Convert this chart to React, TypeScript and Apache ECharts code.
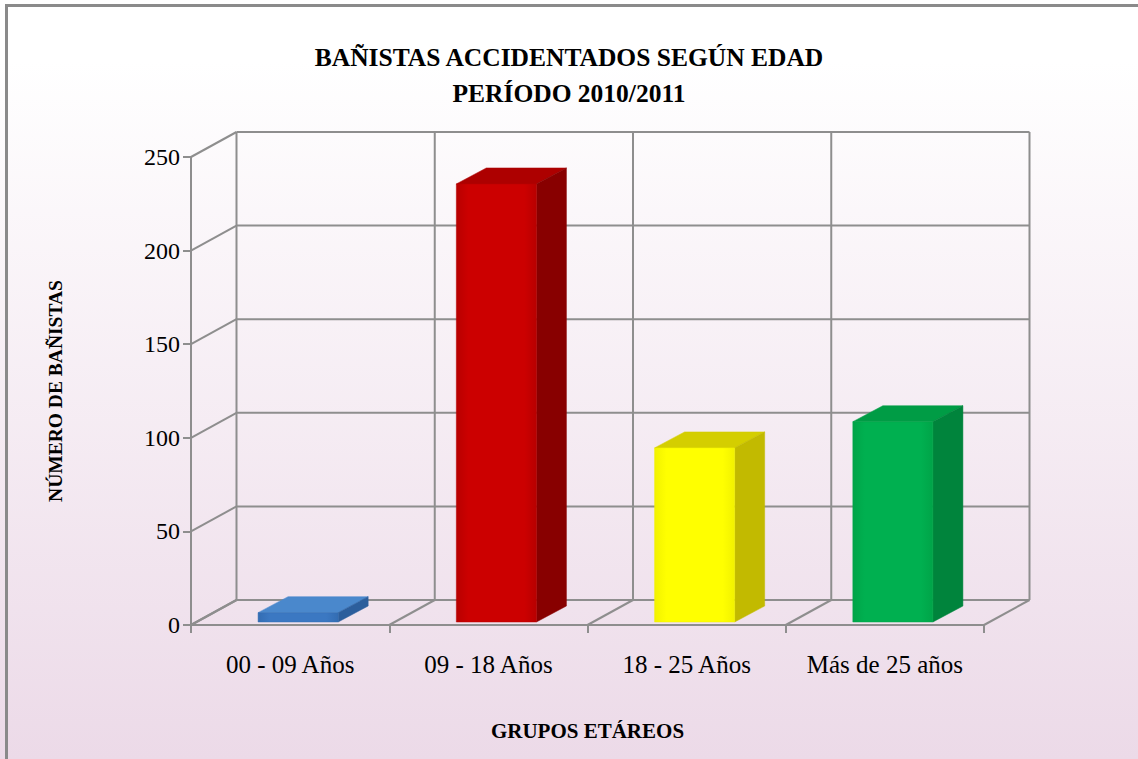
import React, { useEffect, useRef } from "react";
import * as echarts from "echarts";

// ---- data ----
const titleLines = ["BAÑISTAS ACCIDENTADOS SEGÚN EDAD", "PERÍODO 2010/2011"];
const categories = ["00 - 09 Años", "09 - 18 Años", "18 - 25 Años", "Más de 25 años"];
const values = [5, 234, 93, 107];
const yTicks = [0, 50, 100, 150, 200, 250];
const xAxisTitle = "GRUPOS ETÁREOS";
const yAxisTitle = "NÚMERO DE BAÑISTAS";

// ---- styles ----
const frontColors = ["#3b78c2", "#cc0000", "#ffff00", "#00b050"];
const frontDark = ["#336db3", "#b80000", "#f2f200", "#00a448"];
const topColors = ["#4a88cc", "#ad0000", "#d4ce00", "#009c45"];
const sideColors = ["#2c5e9c", "#880000", "#c2ba00", "#00843c"];
const LINE = "#8e8e8e";
const LW = 2;
const FONT = "Liberation Serif";

// wall depth and bar geometry (pixels)
const DX = 45.5;
const DY = -25;
const BX = 8;
const BY = -3;
const BDX = 30;
const BDY = -16;

export default function App() {
  const ref = useRef<HTMLDivElement>(null);
  useEffect(() => {
    if (!ref.current) return;
    const chart = echarts.init(ref.current, null, { renderer: "svg" });
    const lineStyle = { stroke: LINE, lineWidth: LW };

    const option: any = {
      animation: false,
      backgroundColor: {
        type: "linear",
        x: 0,
        y: 0,
        x2: 0,
        y2: 1,
        colorStops: [
          { offset: 0, color: "#ffffff" },
          { offset: 0.08, color: "#ffffff" },
          { offset: 1, color: "#ecdae8" },
        ],
      },
      title: {
        text: titleLines.join("\n"),
        left: "center",
        top: 39,
        padding: 0,
        textStyle: {
          fontFamily: FONT,
          fontWeight: "bold",
          fontSize: 25.5,
          lineHeight: 36,
          color: "#000",
        },
      },
      graphic: [
        {
          type: "polyline",
          shape: { points: [[1200, 5.5], [6.5, 5.5], [6.5, 800]] },
          style: { fill: "none", stroke: "#8a8a8a", lineWidth: 3 },
          silent: true,
          z: 100,
        },
      ],
      grid: { left: 191, right: 154, top: 157, bottom: 134 },
      xAxis: {
        type: "category",
        data: categories,
        boundaryGap: true,
        axisLine: { show: true, lineStyle: { color: LINE, width: LW } },
        axisTick: { show: true, length: 8, interval: 0, lineStyle: { color: LINE, width: LW } },
        axisLabel: {
          interval: 0,
          margin: 27,
          fontFamily: FONT,
          fontSize: 25,
          color: "#000",
        },
        splitLine: { show: false },
        name: xAxisTitle,
        nameLocation: "middle",
        nameGap: 95,
        nameTextStyle: { fontFamily: FONT, fontWeight: "bold", fontSize: 21, color: "#000" },
      },
      yAxis: {
        type: "value",
        min: 0,
        max: 250,
        interval: 50,
        axisLine: { show: true, lineStyle: { color: LINE, width: LW } },
        axisTick: { show: true, length: 8, lineStyle: { color: LINE, width: LW } },
        axisLabel: { margin: 11, fontFamily: FONT, fontSize: 24, color: "#000" },
        splitLine: { show: false },
        name: yAxisTitle,
        nameLocation: "middle",
        nameGap: 126,
        nameRotate: 90,
        nameTextStyle: { fontFamily: FONT, fontWeight: "bold", fontSize: 19.5, color: "#000" },
      },
      series: [
        {
          type: "custom",
          name: "walls",
          silent: true,
          z: 1,
          data: yTicks.map((v) => [0, v]),
          renderItem: (params: any, api: any) => {
            const cs = params.coordSys;
            const y = api.coord([0, api.value(1)])[1];
            const xl = cs.x;
            const xr = cs.x + cs.width;
            return {
              type: "group",
              children: [
                { type: "line", shape: { x1: xl, y1: y, x2: xl + DX, y2: y + DY }, style: lineStyle },
                { type: "line", shape: { x1: xl + DX, y1: y + DY, x2: xr + DX, y2: y + DY }, style: lineStyle },
              ],
            };
          },
        },
        {
          type: "custom",
          name: "floor",
          silent: true,
          z: 1,
          data: categories.map((c, i) => [i, 0]),
          renderItem: (params: any, api: any) => {
            const cs = params.coordSys;
            const i = api.value(0);
            const c = api.coord([i, 0]);
            const band = api.size([1, 0])[0];
            const xs = i === 0 ? [c[0] - band / 2, c[0] + band / 2] : [c[0] + band / 2];
            const yb = c[1];
            const yt = cs.y;
            const children: any[] = [];
            xs.forEach((x) => {
              children.push({ type: "line", shape: { x1: x, y1: yb, x2: x + DX, y2: yb + DY }, style: lineStyle });
              children.push({ type: "line", shape: { x1: x + DX, y1: yb + DY, x2: x + DX, y2: yt + DY }, style: lineStyle });
            });
            return { type: "group", children };
          },
        },
        {
          type: "custom",
          name: "bars",
          silent: true,
          z: 5,
          data: values.map((v, i) => [i, v]),
          renderItem: (params: any, api: any) => {
            const i = api.value(0);
            const v = api.value(1);
            const top = api.coord([i, v]);
            const base = api.coord([i, 0]);
            const band = api.size([1, 0])[0];
            const w = band * 0.404;
            const x0 = top[0] - w / 2 + BX;
            const x1 = x0 + w;
            const yT = top[1] + BY;
            const yB = base[1] + BY;
            return {
              type: "group",
              children: [
                {
                  type: "polygon",
                  shape: { points: [[x0, yT], [x1, yT], [x1 + BDX, yT + BDY], [x0 + BDX, yT + BDY]] },
                  style: { fill: topColors[i], stroke: topColors[i], lineWidth: 0.5 },
                },
                {
                  type: "polygon",
                  shape: { points: [[x1, yT], [x1, yB], [x1 + BDX, yB + BDY], [x1 + BDX, yT + BDY]] },
                  style: { fill: sideColors[i], stroke: sideColors[i], lineWidth: 0.5 },
                },
                {
                  type: "rect",
                  shape: { x: x0, y: yT, width: w, height: yB - yT },
                  style: {
                    fill: {
                      type: "linear",
                      x: 0,
                      y: 0,
                      x2: 1,
                      y2: 0,
                      colorStops: [
                        { offset: 0, color: frontDark[i] },
                        { offset: 0.15, color: frontColors[i] },
                        { offset: 0.85, color: frontColors[i] },
                        { offset: 1, color: frontDark[i] },
                      ],
                    },
                    stroke: frontDark[i],
                    lineWidth: 0.5,
                  },
                },
              ],
            };
          },
        },
      ],
    };
    chart.setOption(option);
    return () => chart.dispose();
  }, []);
  return (
    <div
      ref={ref}
      style={{ position: "fixed", left: 0, top: 0, width: 1138, height: 759 }}
    />
  );
}
